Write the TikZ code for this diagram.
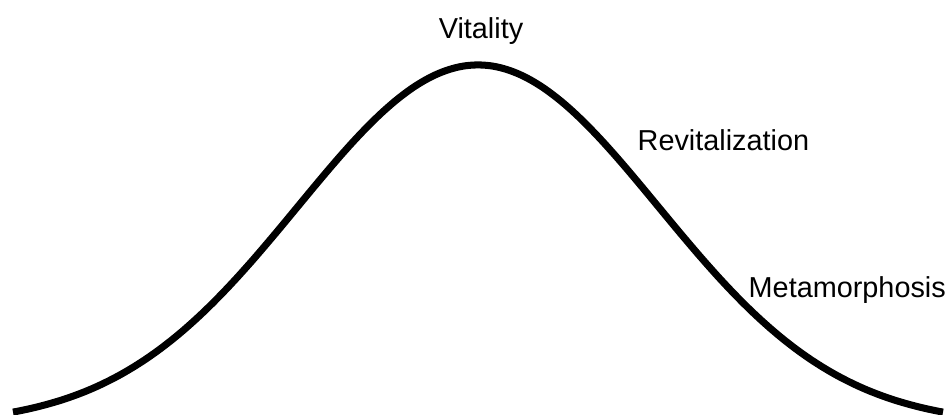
\documentclass[tikz,border=0pt]{standalone}
\usepackage{fontspec}
\setmainfont{Liberation Sans}

\begin{document}
\begin{tikzpicture}[x=0.01cm, y=-0.01cm, every node/.style={font=\fontsize{8.2}{10}\selectfont, inner sep=0pt}]
\useasboundingbox (0,0) rectangle (947,414);
% bell curve, peak at x=478
\draw[line width=2pt, domain=-465:465, samples=200, smooth] plot ({478+\x},{425-360*exp(-(\x/100)*(\x/100)/6.5)});
\node[anchor=base] (vitality) at (481,38) {Vitality};
\node[anchor=base west] (revital) at (637,150) {Revitalization};
\node[anchor=base west] (metamorph) at (748,297) {Metamorphosis};
\end{tikzpicture}
\end{document}
